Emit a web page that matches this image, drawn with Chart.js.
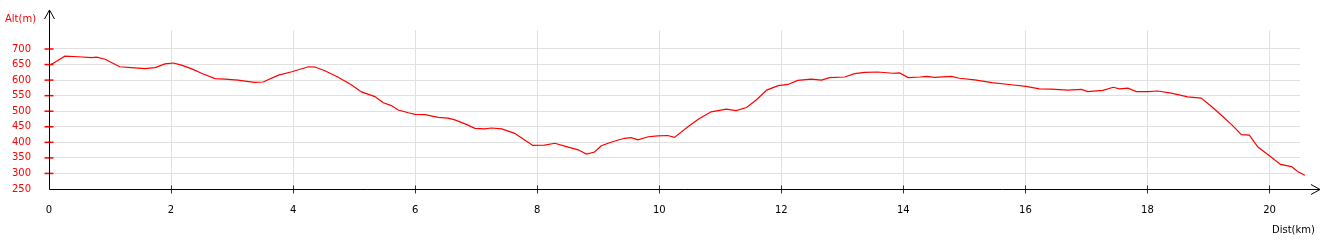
<!DOCTYPE html>
<html>
<head>
<meta charset="utf-8">
<script src="https://cdn.jsdelivr.net/npm/chart.js@4"></script>
<style>
  html, body { margin: 0; padding: 0; background: #fff; }
  #wrap { width: 1326px; height: 240px; }
</style>
</head>
<body>
<div id="wrap"><canvas id="profil"></canvas></div>
<script>
const dist = [0.00, 0.07, 0.26, 0.48, 0.70, 0.78, 0.92, 1.03, 1.16, 1.35, 1.57, 1.74, 1.90, 2.04, 2.17, 2.34, 2.50, 2.72, 2.88, 3.10,
  3.21, 3.37, 3.51, 3.76, 3.98, 4.25, 4.36, 4.52, 4.74, 4.96, 5.12, 5.34, 5.48, 5.61, 5.72, 5.89, 6.00, 6.16, 6.38, 6.54,
  6.65, 6.81, 6.98, 7.14, 7.25, 7.42, 7.63, 7.80, 7.93, 8.12, 8.29, 8.45, 8.67, 8.81, 8.94, 9.05, 9.22, 9.43, 9.54, 9.65,
  9.82, 9.98, 10.14, 10.25, 10.47, 10.64, 10.85, 11.10, 11.26, 11.43, 11.59, 11.76, 11.95, 12.11, 12.27, 12.49, 12.66, 12.79, 13.04, 13.20,
  13.37, 13.58, 13.83, 13.94, 14.08, 14.27, 14.38, 14.51, 14.79, 14.92, 15.17, 15.45, 15.77, 16.01, 16.23, 16.42, 16.70, 16.92, 17.02, 17.27,
  17.44, 17.54, 17.68, 17.82, 18.01, 18.17, 18.39, 18.66, 18.88, 19.04, 19.24, 19.40, 19.54, 19.67, 19.81, 20.00, 20.18, 20.36, 20.46, 20.58];
const alt = [648, 654, 677, 675, 672, 674, 667, 656, 643, 640, 637, 640, 652, 655, 648, 636, 622, 605, 603, 600,
  597, 593, 594, 616, 627, 643, 642, 630, 609, 584, 562, 547, 527, 518, 504, 495, 490, 489, 480, 478,
  472, 460, 445, 443, 446, 443, 429, 407, 390, 391, 397, 388, 376, 362, 369, 389, 401, 413, 415, 408,
  418, 421, 422, 416, 450, 474, 498, 507, 502, 512, 536, 568, 582, 586, 599, 603, 600, 608, 610, 621,
  625, 626, 622, 623, 608, 610, 612, 609, 612, 606, 601, 592, 585, 580, 572, 571, 568, 570, 563, 567,
  577, 572, 574, 563, 563, 565, 558, 546, 542, 517, 482, 453, 425, 423, 385, 357, 329, 322, 306, 294];
const xTicks = [0, 2, 4, 6, 8, 10, 12, 14, 16, 18, 20];
const yTicks = [250, 300, 350, 400, 450, 500, 550, 600, 650, 700];

const police = { family: "'DejaVu Sans', Verdana, sans-serif", size: 10 };

// axes avec flèches, petites graduations et titres
const axesPlugin = {
  id: 'axes',
  afterDraw(chart) {
    const { ctx, scales } = chart;
    const x0 = Math.round(scales.x.getPixelForValue(0)) + 0.5;
    const y0 = Math.round(scales.y.getPixelForValue(250)) + 0.5;
    const ligne = (a, b, c, d) => { ctx.beginPath(); ctx.moveTo(a, b); ctx.lineTo(c, d); ctx.stroke(); };
    ctx.save();

    ctx.strokeStyle = '#ff0000';
    ctx.lineWidth = 1.5;
    yTicks.forEach(v => {
      if (v === 250) return;
      const y = scales.y.getPixelForValue(v);
      ligne(x0 - 5, y, x0 + 4, y);
    });

    ctx.strokeStyle = '#333';
    ctx.lineWidth = 1;
    xTicks.forEach(v => {
      if (v === 0) return;
      const x = Math.round(scales.x.getPixelForValue(v)) + 0.5;
      ligne(x, y0 - 4, x, y0 + 4);
    });

    ctx.strokeStyle = '#000';
    ligne(x0, y0, 1320, y0);
    ligne(x0, y0, x0, 10);
    // flèches
    ctx.beginPath();
    ctx.moveTo(1311, y0 - 5); ctx.lineTo(1320, y0); ctx.lineTo(1311, y0 + 5);
    ctx.stroke();
    ctx.beginPath();
    ctx.moveTo(x0 - 5, 19); ctx.lineTo(x0, 10); ctx.lineTo(x0 + 5, 19);
    ctx.stroke();

    ctx.font = "10px 'DejaVu Sans', Verdana, sans-serif";
    ctx.textBaseline = 'middle';
    ctx.fillStyle = '#ff0000';
    ctx.textAlign = 'left';
    ctx.fillText('Alt(m)', 5, 19.5);
    ctx.fillStyle = '#000';
    ctx.fillText('Dist(km)', 1272, 230);
    ctx.restore();
  }
};

new Chart(document.getElementById('profil'), {
  type: 'line',
  data: {
    datasets: [{
      data: dist.map((d, i) => ({ x: d, y: alt[i] })),
      borderColor: '#ff0000',
      borderWidth: 1.2,
      pointRadius: 0,
      tension: 0,
      fill: false,
      clip: false
    }]
  },
  options: {
    responsive: true,
    maintainAspectRatio: false,
    animation: false,
    layout: { padding: { top: 30.33, right: 26, left: 0, bottom: 0 } },
    plugins: { legend: { display: false }, tooltip: { enabled: false } },
    scales: {
      x: {
        type: 'linear',
        min: 0,
        max: 20.5,
        afterBuildTicks: axis => { axis.ticks = xTicks.map(v => ({ value: v })); },
        afterFit: axis => { axis.height = 51; },
        border: { display: false },
        grid: { color: '#e0e0e0', drawTicks: false },
        ticks: { color: '#000', font: police, padding: 15, maxRotation: 0, autoSkip: false }
      },
      y: {
        min: 250,
        max: 760,
        afterBuildTicks: axis => { axis.ticks = yTicks.map(v => ({ value: v })); },
        afterFit: axis => { axis.width = 49; },
        border: { display: false },
        grid: { color: '#e0e0e0', drawTicks: false },
        ticks: { color: '#ff0000', font: police, padding: 18, autoSkip: false }
      }
    }
  },
  plugins: [axesPlugin]
});
</script>
</body>
</html>
